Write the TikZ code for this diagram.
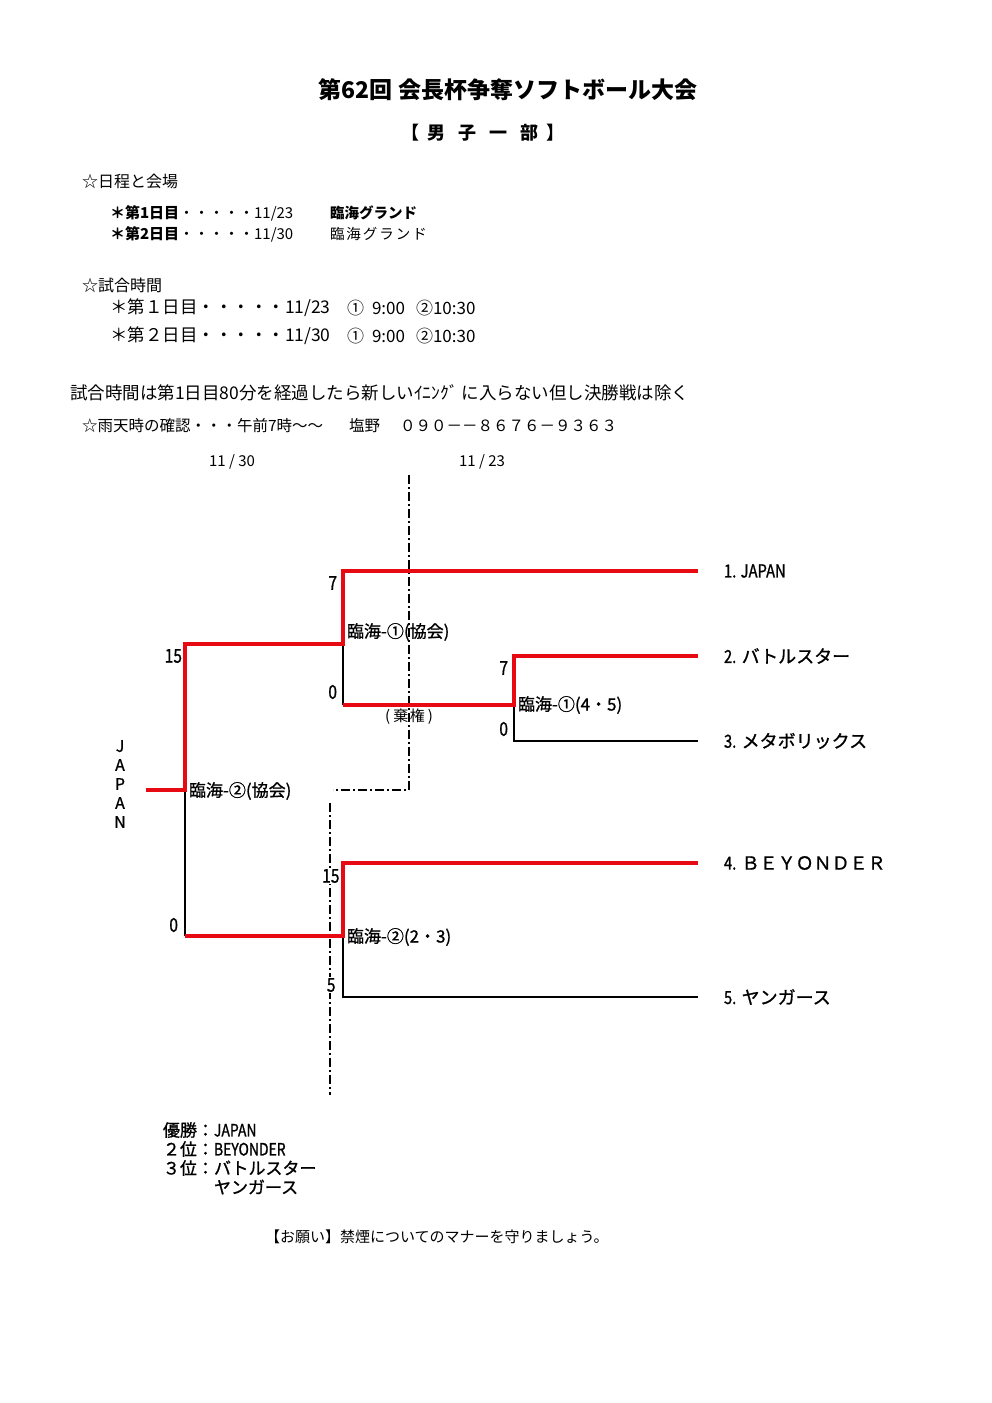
\documentclass[tikz,border=0pt]{standalone}
\usepackage{fontspec}
\setmainfont{Noto Sans CJK JP}
\newfontfamily\jpn{Noto Sans CJK JP}[FakeStretch=0.82,FakeBold=1]
\newfontfamily\jpb{Noto Sans CJK JP}[FakeBold=1]
\definecolor{bred}{RGB}{232,10,18}
\newcommand{\fsz}[1]{\fontsize{#1}{#1}\selectfont}
\tikzset{
  every node/.style={inner sep=0pt,outer sep=0pt},
  lw/.style={anchor=west},
  win/.style={draw=bred,line width=4pt},
  lose/.style={draw=black,line width=1.3pt},
  dd/.style={draw=black,line width=1.3pt,dash pattern=on 9pt off 3pt on 2pt off 3pt},
  score/.style={anchor=east,font=\jpn\fsz{19}},
  match/.style={anchor=west,font=\jpb\fsz{17}},
  team/.style={anchor=west,font=\jpb\fsz{18}}
}
\begin{document}
\begin{tikzpicture}[x=1pt,y=-1pt]
\useasboundingbox (0,0) rectangle (991,1403);
\fill[white] (0,0) rectangle (991,1403);

% header
\node (title) at (508,90) {\fsz{23}\bfseries 第62回 会長杯争奪ソフトボール大会};
\node (bu) at (483,133) {\fsz{18}\bfseries 【\hspace{8pt}男\hspace{13pt}子\hspace{13pt}一\hspace{13pt}部\hspace{8pt}】};

\node[lw] (s1) at (82,181) {\fsz{16}☆日程と会場};
\node[lw] (d1) at (110,213) {\fsz{15}{\bfseries ＊第1日目}・・・・・11/23};
\node[lw] (v1) at (330,213) {\fsz{14.5}\bfseries 臨海グランド};
\node[lw] (d2) at (110,234) {\fsz{15}{\bfseries ＊第2日目}・・・・・11/30};
\node[lw] (v2) at (330,234) {\fsz{14.5}臨\hspace{2pt}海\hspace{2pt}グ\hspace{2pt}ラ\hspace{2pt}ン\hspace{2pt}ド};

\node[lw] (s2) at (82,285) {\fsz{16}☆試合時間};
\node[lw] (t1a) at (110,308) {\fsz{17.5}＊第１日目・・・・・11/23};
\node[lw] (t1b) at (347,308) {\fsz{17}①};
\node[lw] (t1c) at (372,308) {\fsz{17}9:00};
\node[lw] (t1d) at (416,308) {\fsz{17}②10:30};
\node[lw] (t2a) at (110,336) {\fsz{17.5}＊第２日目・・・・・11/30};
\node[lw] (t2b) at (347,336) {\fsz{17}①};
\node[lw] (t2c) at (372,336) {\fsz{17}9:00};
\node[lw] (t2d) at (416,336) {\fsz{17}②10:30};

\node[lw] (rule) at (70,393) {\fsz{17.5}試合時間は第1日目80分を経過したら新しいｲﾆﾝｸﾞ に入らない但し決勝戦は除く};
\node[lw] (rain) at (82,426) {\fsz{15.5}☆雨天時の確認・・・午前7時〜〜};
\node[lw] (sh) at (349,426) {\fsz{15.5}塩野};
\node[lw] (ph) at (400,426) {\fsz{15.5}０９０－－８６７６－９３６３};

\node (dt1) at (232,462) {\fsz{15}11 / 30};
\node (dt2) at (482,462) {\fsz{15}11 / 23};

% bracket coordinates
\coordinate (rx) at (698,0);
\coordinate (j) at (146,790);
\coordinate (a) at (185,790);
\coordinate (aT) at (185,644);
\coordinate (aB) at (185,936);
\coordinate (b) at (343,644);
\coordinate (bT) at (343,571);
\coordinate (bB) at (343,705);
\coordinate (c) at (514,705);
\coordinate (cT) at (514,656);
\coordinate (cB) at (514,741);
\coordinate (d) at (343,936);
\coordinate (dT) at (343,863);
\coordinate (dB) at (343,997);

% dash-dot day separators
\coordinate (v1t) at (409,475);
\coordinate (v1b) at (409,790);
\coordinate (h1l) at (333,790);
\coordinate (v2t) at (330,803);
\coordinate (v2b) at (330,1095);
\draw[dd] (v1t) -- (v1b) -- (h1l);
\draw[dd] (v2t) -- (v2b);

% losers (thin black)
\draw[lose] (b) -- (bB);
\draw[lose] (c) -- (cB) -- (cB -| rx);
\draw[lose] (a) -- (aB);
\draw[lose] (d) -- (dB) -- (dB -| rx);

% winners (red)
\draw[win] (j) -- (a) -- (aT) -- (b) -- (bT) -- (bT -| rx);
\draw[win] (bB) -- (c) -- (cT) -- (cT -| rx);
\draw[win] (aB) -- (d) -- (dT) -- (dT -| rx);

% scores
\node[score] (sc1) at (337,583) {7};
\node[score] (sc2) at (337,692) {0};
\node[score] (sc3) at (182,656) {15};
\node[score] (sc4) at (178,925) {0};
\node[score] (sc5) at (508,668) {7};
\node[score] (sc6) at (508,729) {0};
\node[score,fill=white,inner sep=1.5pt] (sc7) at (341,876) {15};
\node[score,fill=white,inner sep=1.5pt] (sc8) at (337,985) {5};

% match labels
\node[match] (m1) at (347,632) {臨海-①(協会)};
\node (kiken) at (409,717) {\fsz{15}(\hspace{3pt}棄\hspace{1.5pt}権\hspace{3pt})};
\node[match] (m2) at (189,791) {臨海-②(協会)};
\node[match] (m3) at (518,705) {臨海-①(4・5)};
\node[match] (m4) at (347,937) {臨海-②(2・3)};

% vertical JAPAN
\node[align=center,font=\jpb\fontsize{16}{19}\selectfont] (jv) at (120,784) {J\\A\\P\\A\\N};

% teams
\node[team] (tm1) at (724,571) {{\jpn 1. JAPAN}};
\node[team] (tm2) at (724,656) {{\jpn 2.} バトルスター};
\node[team] (tm3) at (724,741) {{\jpn 3.} メタボリックス};
\node[team] (tm4) at (724,863) {{\jpn 4.} ＢＥＹＯＮＤＥＲ};
\node[team] (tm5) at (724,997) {{\jpn 5.} ヤンガース};

% results
\node[lw,font=\jpb\fsz{17}] (r1) at (163,1130) {優勝：{\jpn JAPAN}};
\node[lw,font=\jpb\fsz{17}] (r2) at (163,1149) {２位：{\jpn BEYONDER}};
\node[lw,font=\jpb\fsz{17}] (r3) at (163,1168) {３位：バトルスター};
\node[lw,font=\jpb\fsz{17}] (r4) at (214,1187) {ヤンガース};

\node[lw] (note) at (265,1237) {\fsz{15}【お願い】禁煙についてのマナーを守りましょう。};
\end{tikzpicture}
\end{document}
